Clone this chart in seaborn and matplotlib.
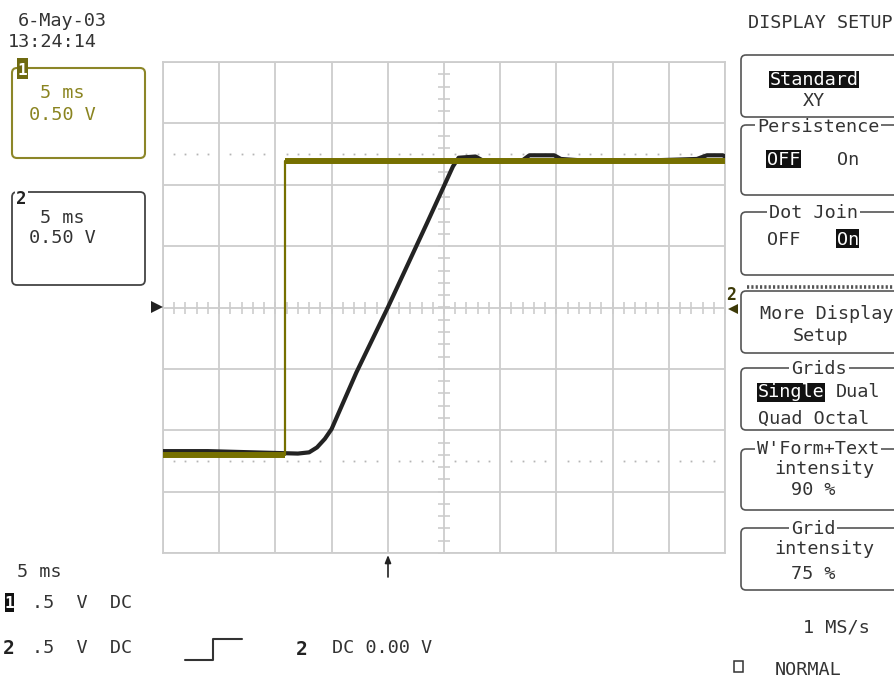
import numpy as np
import pandas as pd
import matplotlib
matplotlib.use("Agg")
import matplotlib.pyplot as plt
from matplotlib.patches import FancyBboxPatch, Rectangle
import seaborn as sns

# ---- scope settings: 5 ms/div, 0.5 V/div, 10 x 8 divisions, trigger at t = 0 ----
time_range_ms = [-20.0, 30.0]
volt_range_v = [-2.0, 2.0]
ms_per_div = 5.0
v_per_div = 0.5
marker_level_v = 1.25

# ---- channel 1: input step ----
ch1_time_ms = [-20.0, -9.15, -9.15, 30.0]
ch1_volts = [-1.205, -1.205, 1.19, 1.19]

# ---- channel 2: slew-limited response ----
ch2_time_ms = [-20.0, -16.0, -12.0, -8.0, -7.0, -6.3, -5.6, -5.0, -2.8, 0.0,
               3.5, 5.2, 5.8, 6.3, 7.8, 8.4, 10.0, 12.0, 12.6, 14.8, 15.4,
               17.0, 20.0, 24.0, 27.5, 28.4, 29.8, 30.0]
ch2_volts = [-1.17, -1.17, -1.18, -1.19, -1.18, -1.14, -1.07, -0.99, -0.53, 0.0,
             0.69, 1.03, 1.15, 1.22, 1.23, 1.20, 1.19, 1.20, 1.24, 1.24, 1.21,
             1.20, 1.20, 1.20, 1.21, 1.24, 1.24, 1.23]

TRACE1 = "#767000"
TRACE2 = "#232323"
GRID = "#cdcdcd"
TXT = "#333333"
OLIVE_TXT = "#8a8420"
BOX = "#555555"
MONO = "DejaVu Sans Mono"
FS = 13.3
CHAR_W = 11.1

sns.set_style("white")
plt.rcParams["font.family"] = [MONO, "DejaVu Sans"]

W, H = 894, 681
fig = plt.figure(figsize=(W / 100, H / 100), dpi=100, facecolor="white")

# ---- graticule ----
gx0, gx1, gy0, gy1 = 163, 725, 62, 553
ax = fig.add_axes([gx0 / W, (H - gy1) / H, (gx1 - gx0) / W, (gy1 - gy0) / H])
ax.set_xlim(*time_range_ms)
ax.set_ylim(*volt_range_v)
ax.set_xticks(np.arange(time_range_ms[0], time_range_ms[1] + 0.01, ms_per_div))
ax.set_yticks(np.arange(volt_range_v[0], volt_range_v[1] + 0.01, v_per_div))
ax.grid(True, color=GRID, lw=1.3, zorder=0)
ax.tick_params(length=0, labelbottom=False, labelleft=False)
for sp in ax.spines.values():
    sp.set_color(GRID)
    sp.set_linewidth(1.3)

t_center = (time_range_ms[0] + time_range_ms[1]) / 2
minor_t = np.arange(time_range_ms[0], time_range_ms[1] + 0.01, ms_per_div / 5)
minor_v = np.arange(volt_range_v[0], volt_range_v[1] + 0.001, v_per_div / 5)
ax.plot(minor_t, np.zeros_like(minor_t), ls="none", marker="|", ms=8.5,
        mew=1.2, color=GRID, zorder=1)
ax.plot(np.full_like(minor_v, t_center), minor_v, ls="none", marker="_", ms=8.5,
        mew=1.2, color=GRID, zorder=1)

# dotted 10/90 level markers
dot_t = np.array([t for t in minor_t[1:-1]
                  if abs(t / ms_per_div - round(t / ms_per_div)) > 1e-6])
for lvl in (marker_level_v, -marker_level_v):
    ax.plot(dot_t, np.full_like(dot_t, lvl), ls="none", marker="s", ms=1.3,
            color="#b5b5b5", mew=0, zorder=1)

# ---- traces ----
df2 = pd.DataFrame({"t": ch2_time_ms, "v": ch2_volts})
sns.lineplot(data=df2, x="t", y="v", ax=ax, color=TRACE2, lw=3.0,
             estimator=None, sort=False, zorder=3)
df1 = pd.DataFrame({"t": ch1_time_ms, "v": ch1_volts})
sns.lineplot(data=df1, x="t", y="v", ax=ax, color=TRACE1, lw=1.6,
             estimator=None, sort=False, zorder=4)
for seg in (slice(0, 2), slice(2, 4)):
    sns.lineplot(data=df1.iloc[seg], x="t", y="v", ax=ax, color=TRACE1, lw=4.3,
                 estimator=None, sort=False, zorder=4, solid_capstyle="butt")
ax.set_xlabel("")
ax.set_ylabel("")
if ax.get_legend():
    ax.get_legend().remove()

# ---- overlay in pixel coordinates for the scope readouts ----
ov = fig.add_axes([0, 0, 1, 1], zorder=5)
ov.set_xlim(0, W)
ov.set_ylim(H, 0)
ov.axis("off")
ov.patch.set_visible(False)


def text(x, y, s, color=TXT, size=FS, weight="normal", ha="left"):
    ov.text(x, y, s, ha=ha, va="baseline", fontsize=size, family=MONO,
            color=color, fontweight=weight, zorder=3)


def box(x0, y0, x1, y1, color=BOX, lw=1.2):
    ov.add_patch(FancyBboxPatch((x0, y0), x1 - x0, y1 - y0,
                                boxstyle="round,pad=0,rounding_size=5",
                                fc="none", ec=color, lw=lw, zorder=1))


def hilite(x0, y0, x1, y1, color="#111111"):
    ov.add_patch(Rectangle((x0, y0), x1 - x0, y1 - y0, fc=color, ec="none", zorder=2))


def title(x, border_y, s, drop=6.5):
    # break the box border behind a caption sitting on it
    w = len(s) * CHAR_W
    ov.add_patch(Rectangle((x - 2, border_y - 3), w + 4, 6, fc="white", ec="none", zorder=2))
    text(x, border_y + drop, s)


# date / time
text(18, 26, "6-May-03")
text(8, 47, "13:24:14")

# channel 1 box
box(12, 68, 145, 158, color="#8c8628", lw=1.5)
hilite(17, 58, 28, 79, color="#6f6a10")
text(22.5, 75, "1", color="white", size=11.5, weight="bold", ha="center")
text(40, 98, "5 ms", color=OLIVE_TXT)
text(29, 120, "0.50 V", color=OLIVE_TXT)

# channel 2 box
box(12, 192, 145, 285, color="#444444", lw=1.3)
ov.add_patch(Rectangle((15, 188), 13, 8, fc="white", ec="none", zorder=2))
text(16, 204, "2", color="#222222", size=12.5, weight="bold")
text(40, 223, "5 ms")
text(29, 243, "0.50 V")

# ground / channel markers at graticule edges
ov.plot(157, 307, marker=">", ms=8, color="#222222", mew=0)
text(726, 300, "2", color="#3d3a08", size=12, weight="bold")
ov.plot(733, 309, marker="<", ms=7, color="#3d3a08", mew=0)

# trigger position arrow
ov.annotate("", xy=(388, 555), xytext=(388, 577),
            arrowprops=dict(arrowstyle="-|>,head_length=0.45,head_width=0.18",
                            lw=1.2, color="#222222", shrinkA=0, shrinkB=0))

# right-hand menu
text(748, 28, "DISPLAY SETUP")

box(741, 55, 910, 117)
hilite(769, 71, 859, 88)
text(770, 85, "Standard", color="white")
text(803, 106, "XY")

box(741, 125, 910, 195)
title(757, 125, "Persistence")
hilite(766, 150, 801, 168)
text(767, 165, "OFF", color="white")
text(837, 165, "On")

box(741, 212, 910, 275)
title(769, 212, "Dot Join")
text(767, 245, "OFF")
hilite(836, 229, 859, 248)
text(837, 245, "On", color="white")

ov.plot([747, 900], [287, 287], color="#555555", lw=2.6, ls=(0, (0.6, 0.6)),
        solid_capstyle="butt")
box(741, 291, 910, 353)
text(760, 319, "More Display")
text(793, 341, "Setup")

box(741, 368, 910, 430)
title(791, 368, "Grids")
hilite(757, 383, 825, 402)
text(758, 397, "Single", color="white")
text(836, 397, "Dual")
text(758, 424, "Quad Octal")

box(741, 449, 910, 510)
title(757, 449, "W'Form+Text", drop=4.5)
text(774, 474, "intensity")
text(791, 495, "90 %")

box(741, 528, 910, 590)
title(791, 528, "Grid", drop=5.5)
text(774, 554, "intensity")
text(791, 579, "75 %")

text(803, 633, "1 MS/s")
ov.add_patch(Rectangle((734, 661), 9, 11, fc="none", ec="#333333", lw=1.1))
text(775, 675, "NORMAL")

# bottom readouts
text(17, 577, "5 ms")
hilite(5, 593, 14, 612, color="#111111")
text(9.5, 608, "1", color="white", size=11.5, weight="bold", ha="center")
text(32, 608, ".5  V  DC")
text(3, 654, "2", color="#222222", size=14, weight="bold")
text(32, 653, ".5  V  DC")

# trigger slope symbol
ov.plot([185, 213, 213, 242], [660, 660, 639, 639], color="#333333", lw=1.5)
text(296, 655, "2", color="#222222", size=14, weight="bold")
text(332, 653, "DC 0.00 V")

fig.savefig("out.png", dpi=100, facecolor="white")
